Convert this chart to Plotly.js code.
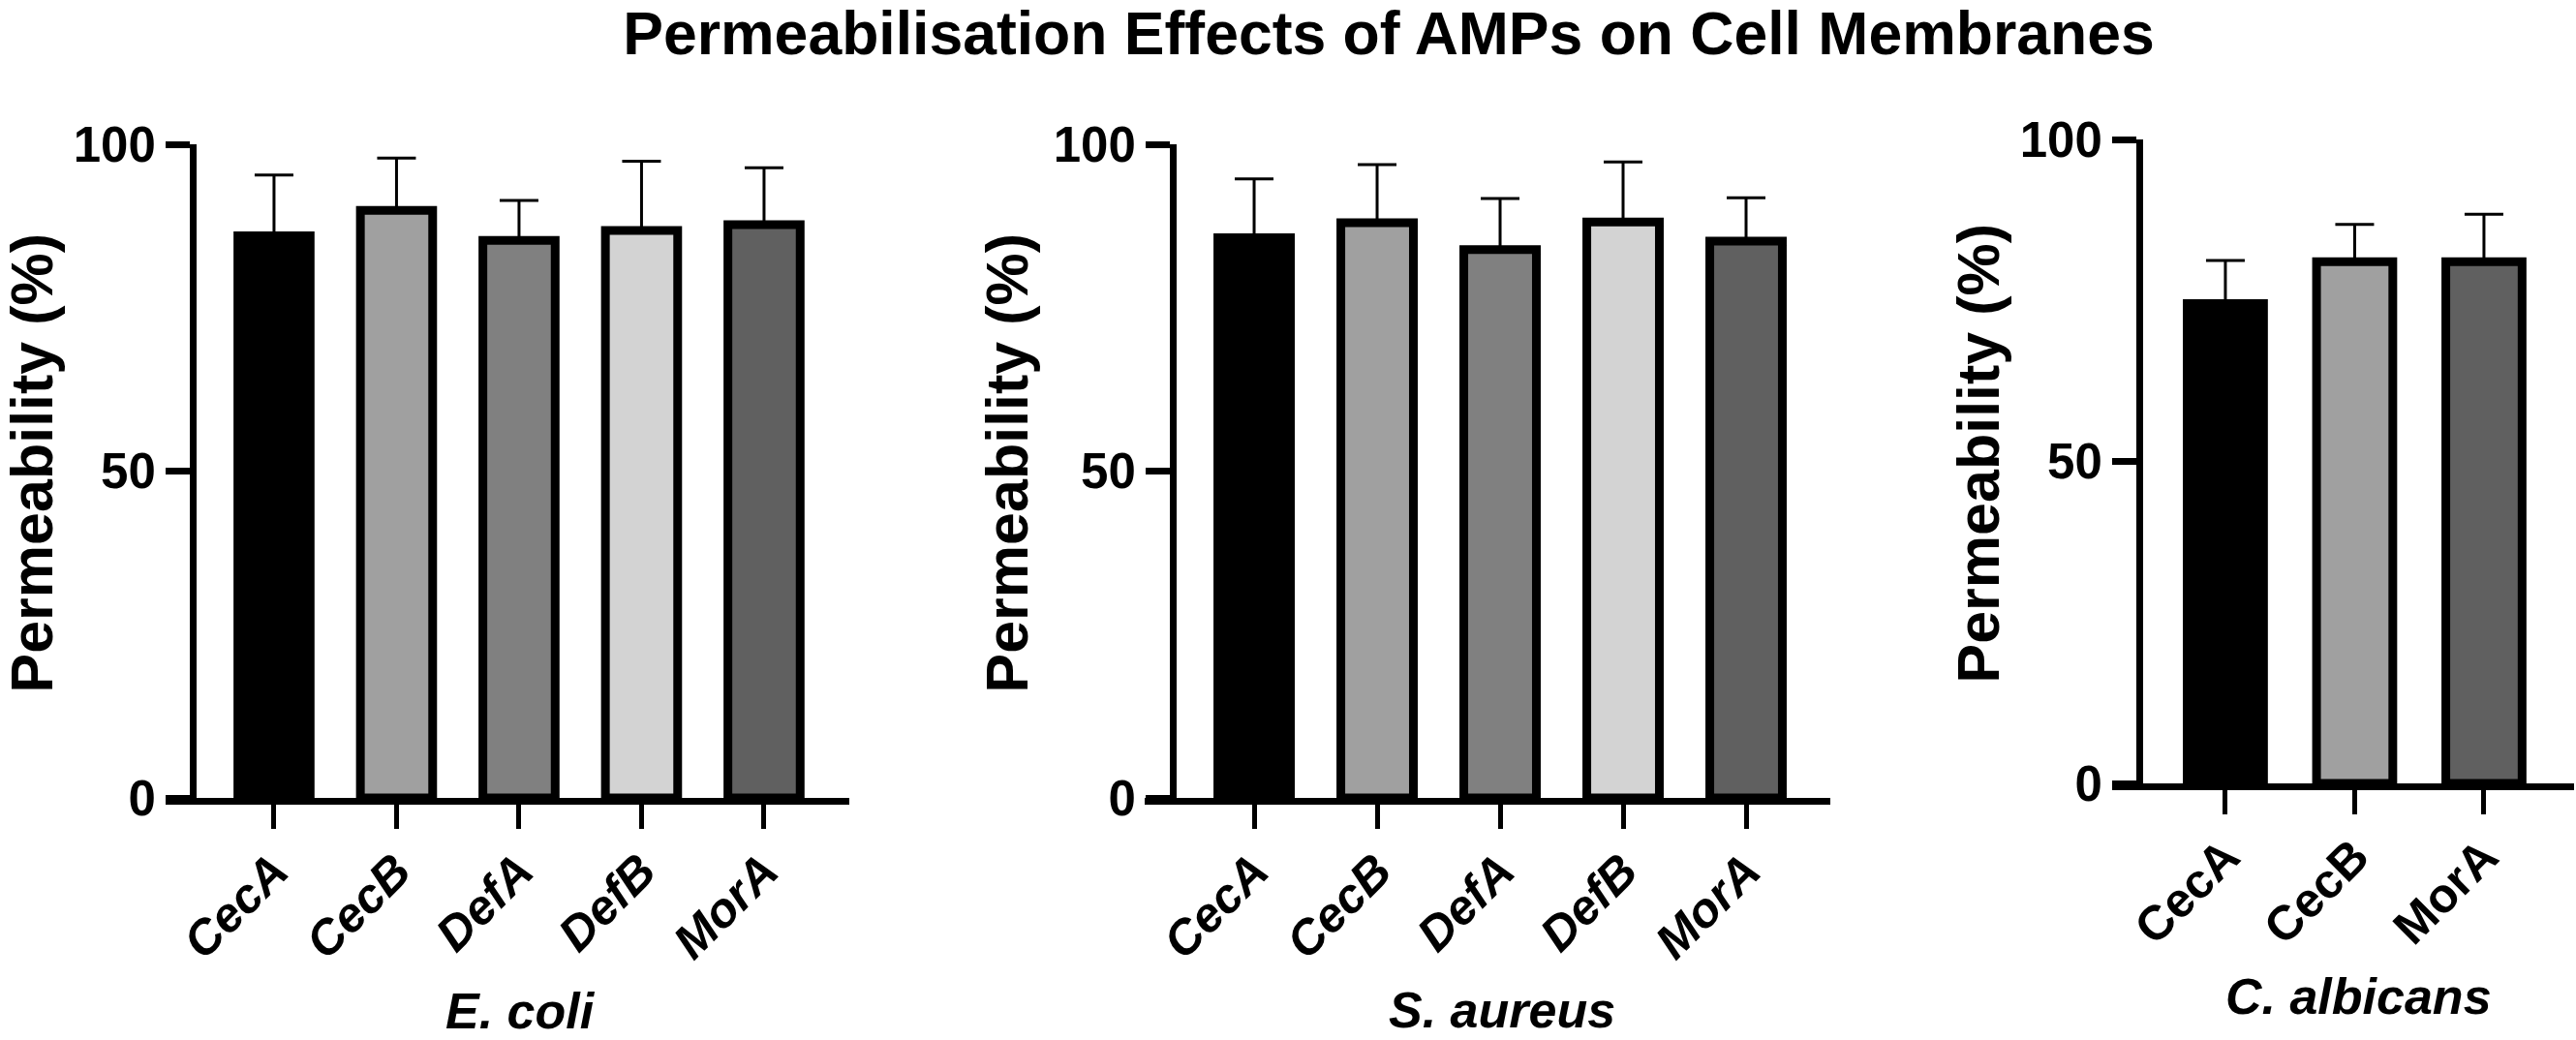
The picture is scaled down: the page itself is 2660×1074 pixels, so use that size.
<!DOCTYPE html>
<html>
<head>
<meta charset="utf-8">
<script src="https://cdn.plot.ly/plotly-3.0.1.min.js"></script>
<style>
  html, body { margin: 0; padding: 0; background: #ffffff; }
  #chart { width: 2660px; height: 1074px; }
</style>
</head>
<body>
<div id="chart"></div>
<script>
// ---------------- data ----------------
const categoriesEcoli = ['CecA', 'CecB', 'DefA', 'DefB', 'MorA'];
const meanEcoli = [86.0, 89.9, 85.3, 86.8, 87.7];
const sdEcoli = [9.3, 8.0, 6.1, 10.6, 8.7];

const categoriesSaureus = ['CecA', 'CecB', 'DefA', 'DefB', 'MorA'];
const meanSaureus = [85.7, 88.0, 83.9, 88.1, 85.2];
const sdSaureus = [9.0, 8.9, 7.8, 9.2, 6.6];

const categoriesCalbicans = ['CecA', 'CecB', 'MorA'];
const meanCalbicans = [74.5, 81.0, 81.0];
const sdCalbicans = [6.7, 5.8, 7.4];

const peptideColors = { CecA: '#000000', CecB: '#a0a0a0', DefA: '#808080', DefB: '#d3d3d3', MorA: '#606060' };
const yTickVals = [0, 50, 100];
const yTickText = ['0', '50', '100'];
const organismLabels = ['E. coli', 'S. aureus', 'C. albicans'];
const yTitleText = 'Permeability (%)';
const mainTitle = 'Permeabilisation Effects of AMPs on Cell Membranes';

// ---------------- layout constants (pixels) ----------------
const W = 2660, H = 1074;
const FONT = "'Liberation Sans', Arial, Helvetica, sans-serif";
const panels = [
  { cats: categoriesEcoli, mean: meanEcoli, sd: sdEcoli, xl: 171, xr: 877, yAxisX: 199, y0: 824, y100: 149,
    r: [-0.885, 4.696], italicTicks: true, titleX: 537, titleY: 1044, yTitleX: 33 },
  { cats: categoriesSaureus, mean: meanSaureus, sd: sdSaureus, xl: 1182, xr: 1890, yAxisX: 1211, y0: 824, y100: 149,
    r: [-0.89, 4.685], italicTicks: true, titleX: 1551, titleY: 1043, yTitleX: 1040 },
  { cats: categoriesCalbicans, mean: meanCalbicans, sd: sdCalbicans, xl: 2181, xr: 2658, yAxisX: 2209, y0: 809, y100: 144,
    r: [-0.876, 2.697], italicTicks: false, titleX: 2435, titleY: 1029, yTitleX: 2042 }
];

const traces = [];
const layout = {
  width: W, height: H,
  margin: { l: 0, r: 0, t: 0, b: 0, pad: 0 },
  paper_bgcolor: '#ffffff',
  plot_bgcolor: '#ffffff',
  showlegend: false,
  bargap: 0,
  font: { family: FONT, color: '#000000' },
  title: {
    text: mainTitle,
    font: { family: FONT, size: 62.5, weight: 'bold', color: '#000000' },
    x: 1434 / W, xanchor: 'center', xref: 'paper',
    y: 1 - 34 / H, yanchor: 'middle', yref: 'container'
  },
  annotations: []
};

panels.forEach((p, i) => {
  const n = i + 1;
  const xa = 'x' + (n === 1 ? '' : n);
  const ya = 'y' + (n === 1 ? '' : n);
  traces.push({
    type: 'bar',
    x: p.cats,
    y: p.mean,
    xaxis: xa, yaxis: ya,
    width: 0.59,
    marker: {
      color: p.cats.map(c => peptideColors[c]),
      line: { color: '#000000', width: 9 }
    },
    error_y: {
      type: 'data', symmetric: false,
      array: p.sd,
      arrayminus: p.sd.map(() => 0),
      color: '#000000', thickness: 3, width: 20
    },
    hoverinfo: 'skip'
  });

  const xKey = 'xaxis' + (n === 1 ? '' : n);
  const yKey = 'yaxis' + (n === 1 ? '' : n);
  layout[xKey] = {
    domain: [p.xl / W, p.xr / W],
    anchor: ya,
    type: 'category',
    range: p.r,
    showline: true, linewidth: 7, linecolor: '#000000',
    ticks: 'outside', ticklen: 25, tickwidth: 5, tickcolor: '#000000',
    tickangle: -45,
    ticklabelstandoff: -6,
    tickfont: { family: FONT, size: 50, weight: 'bold', style: p.italicTicks ? 'italic' : 'normal', color: '#000000' },
    showgrid: false, zeroline: false, fixedrange: true
  };
  layout[yKey] = {
    domain: [(H - p.y0) / H, (H - p.y100) / H],
    anchor: 'free',
    position: p.yAxisX / W,
    range: [0, 100],
    tickmode: 'array', tickvals: yTickVals, ticktext: yTickText,
    showline: true, linewidth: 7, linecolor: '#000000',
    ticks: 'outside', ticklen: 25, tickwidth: 7, tickcolor: '#000000',
    tickfont: { family: FONT, size: 51, weight: 'bold', color: '#000000' },
    showgrid: false, zeroline: false, fixedrange: true
  };
  layout.annotations.push({
    text: organismLabels[i],
    xref: 'paper', yref: 'paper',
    x: p.titleX / W, y: (H - p.titleY) / H,
    xanchor: 'center', yanchor: 'middle',
    showarrow: false,
    font: { family: FONT, size: 52, weight: 'bold', style: 'italic', color: '#000000' }
  });
  layout.annotations.push({
    text: yTitleText,
    xref: 'paper', yref: 'paper',
    x: p.yTitleX / W, y: (H - (p.y0 + p.y100) / 2 + 8) / H,
    xanchor: 'center', yanchor: 'middle',
    textangle: -90,
    showarrow: false,
    font: { family: FONT, size: 61, weight: 'bold', color: '#000000' }
  });
});

Plotly.newPlot('chart', traces, layout, { staticPlot: true, displayModeBar: false });
</script>
</body>
</html>
